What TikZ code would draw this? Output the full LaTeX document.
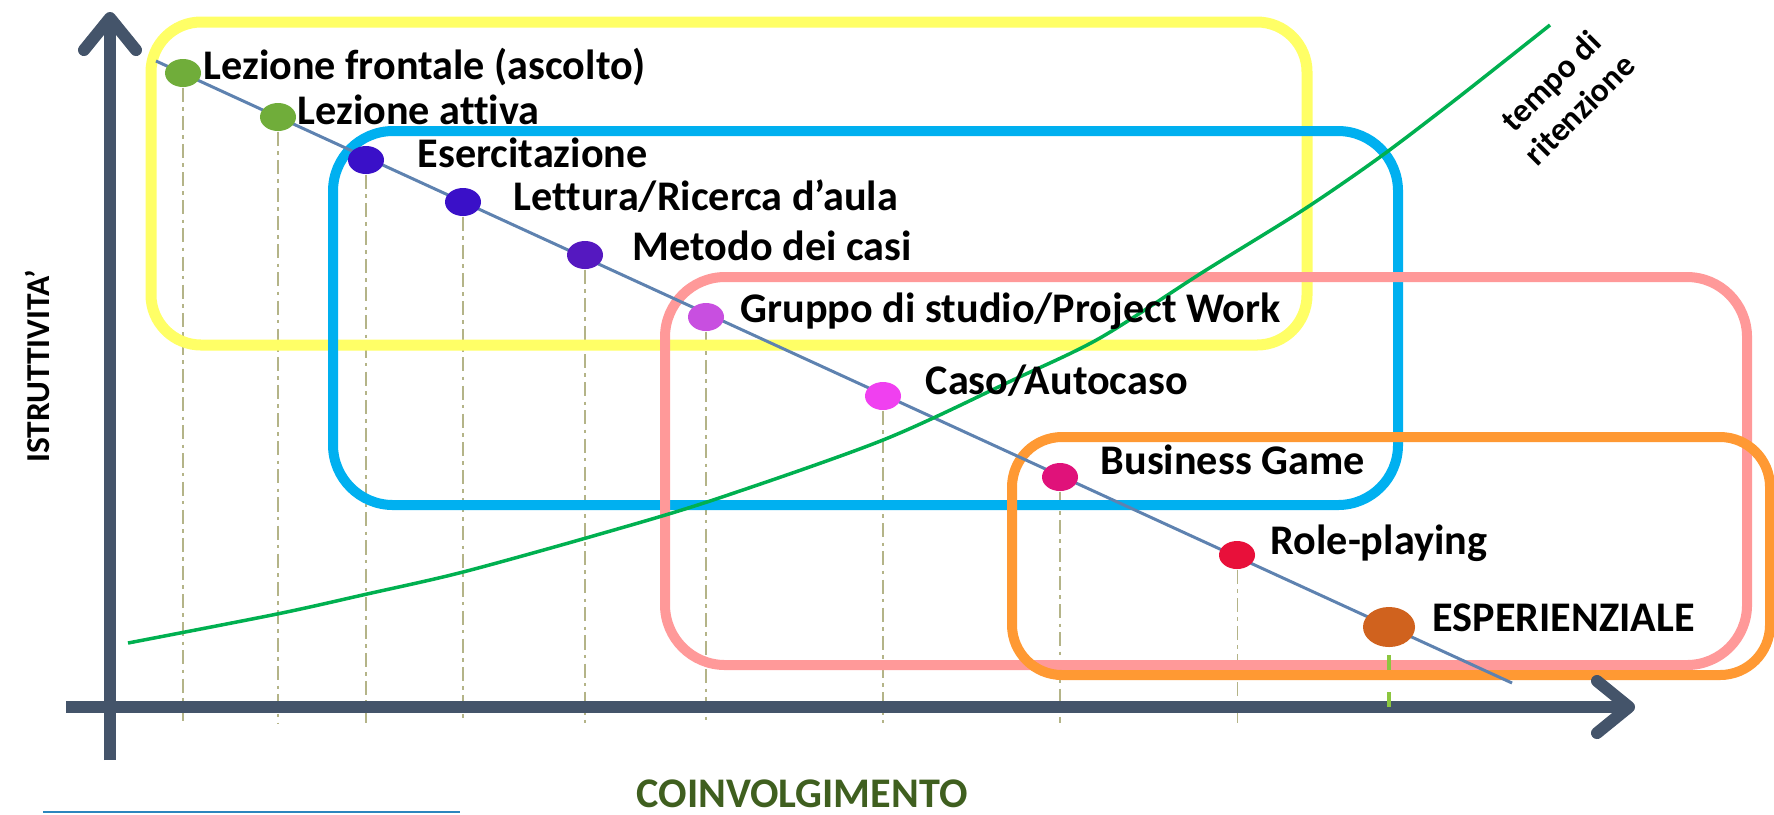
\documentclass[tikz,border=0pt]{standalone}
\usepackage{fontspec}
\setmainfont{Carlito}[Ligatures=NoCommon]
\usepackage{tikz}
\usetikzlibrary{shapes,arrows.meta}

\definecolor{axisc}{HTML}{44546A}
\definecolor{trendc}{HTML}{5E82B0}
\definecolor{guidec}{HTML}{B4B488}
\definecolor{yelc}{HTML}{FFFF66}
\definecolor{bluec}{HTML}{00B0F0}
\definecolor{pinkc}{HTML}{FF9999}
\definecolor{orac}{HTML}{FF9933}
\definecolor{curvec}{HTML}{00B050}
\definecolor{leafc}{HTML}{8CC63F}
\definecolor{titlec}{HTML}{3F5F1F}
\definecolor{edgec}{HTML}{2C86BE}
\definecolor{dgreen}{HTML}{70AD3A}
\definecolor{dindigo}{HTML}{3A10C8}
\definecolor{dviolet}{HTML}{5518C0}
\definecolor{dorchid}{HTML}{C84FE0}
\definecolor{dfuchsia}{HTML}{F040F0}
\definecolor{drose}{HTML}{E0127A}
\definecolor{dred}{HTML}{E8103A}
\definecolor{drust}{HTML}{D0621E}

\pgfdeclarelayer{background}
\pgfsetlayers{background,main}

\begin{document}
\begin{tikzpicture}[
		x=0.01cm, y=-0.01cm,
		axis/.style={
			draw=axisc,
			line width=0.12cm,
			-{Straight Barb[length=0.32cm,width=0.52cm,round]}
		},
		zone/.style={
			line width=0.1cm,
			rounded corners=0.55cm
		},
		dot/.style={
			ellipse,
			draw=none,
			inner sep=0pt,
			minimum width=0.36cm,
			minimum height=0.28cm
		},
		bigdot/.style={
			dot,
			minimum width=0.52cm,
			minimum height=0.4cm
		},
		method/.style={
			anchor=base west,
			inner sep=0pt,
			font=\bfseries\fontsize{12}{14}\selectfont
		},
		guide/.style={
			draw=guidec,
			line width=0.3pt,
			dash pattern=on 4pt off 1.5pt on 1pt off 1.5pt
		}
		]
		\useasboundingbox (0,0) rectangle (1774,814);
		
		\coordinate (ybot) at (110,760);
		\coordinate (ytop) at (110,12);
		\coordinate (xleft) at (66,707);
		\coordinate (xright) at (1635,707);
		\coordinate (gbot) at (0,723);
		\coordinate (tstart) at (156,61);
		\coordinate (tend) at (1512,683);
		
		\draw[trendc, line width=0.03cm] (tstart) -- (tend);
		
		% dots along the trend
		\foreach \px/\py/\col [count=\i] in {183/73/dgreen,278/117/dgreen,366/160/dindigo,463/202/dindigo,585/255/dviolet,706/317/dorchid,883/396/dfuchsia,1060/477/drose,1237/555/dred}
		\node[dot, fill=\col] (d\i) at (\px,\py) {};
		\node[bigdot, fill=drust] (d10) at (1389,627) {};
		
		\begin{pgfonlayer}{background}
		\foreach \i in {1,...,9}
		\draw[guide] (d\i.south) -- (d\i.south |- gbot);
		
		% Zones
		\draw[zone, yelc, line width=0.11cm, rounded corners=0.5cm] (151,22) rectangle (1307,345);
		\draw[zone, bluec, rounded corners=0.6cm] (333,131) rectangle (1398,505);
		\draw[zone, pinkc, rounded corners=0.6cm] (665,277) rectangle (1747,665);
		\draw[zone, orac, rounded corners=0.5cm] (1012,437) rectangle (1770,675);
		
		\draw[axis] (ybot) -- (ytop);
		\draw[axis] (xleft) -- (xright);
		\end{pgfonlayer}
		
		\draw[leafc, line width=0.04cm, dash pattern=on 0.15cm off 0.22cm] (d10.south |- 0,655) -- (d10.south |- gbot);
		
		\draw[curvec, line width=0.035cm] plot[smooth] coordinates {(128,643) (277,614) (367,594) (463,572) (600,534) (713,500) (883,440) (1013,380) (1100,338) (1203,272) (1303,210) (1380,157) (1455,100) (1550,25)};
		
		\node[method] (l1) at (203,79) {Lezione frontale (ascolto)};
		\node[method] (l2) at (297,124) {Lezione attiva};
		\node[method] (l3) at (417,167) {Esercitazione};
		\node[method] (l4) at (513,210) {Lettura/Ricerca d’aula};
		\node[method] (l5) at (632,260) {Metodo dei casi};
		\node[method] (l6) at (740,322) {Gruppo di studio/Project Work};
		\node[method] (l7) at (925,394) {Caso/Autocaso};
		\node[method] (l8) at (1100,474) {Business Game};
		\node[method] (l9) at (1270,554) {Role-playing};
		\node[method] (l10) at (1432,631) {ESPERIENZIALE};
		
		\node[rotate=45, align=center, inner sep=0pt, font=\bfseries\fontsize{9.5}{11.5}\selectfont] (ret) at (1565,95) {tempo di\\ritenzione};
		\node[rotate=90, font=\bfseries\fontsize{9.5}{11}\selectfont] (ylbl) at (37,366) {ISTRUTTIVITA’};
		\node[text=titlec, font=\bfseries\fontsize{12}{14}\selectfont] (xlbl) at (802,794) {COINVOLGIMENTO};
		
		\draw[edgec, line width=0.02cm] (43,812) -- (460,812);
		
		\end{tikzpicture}
\end{document}
